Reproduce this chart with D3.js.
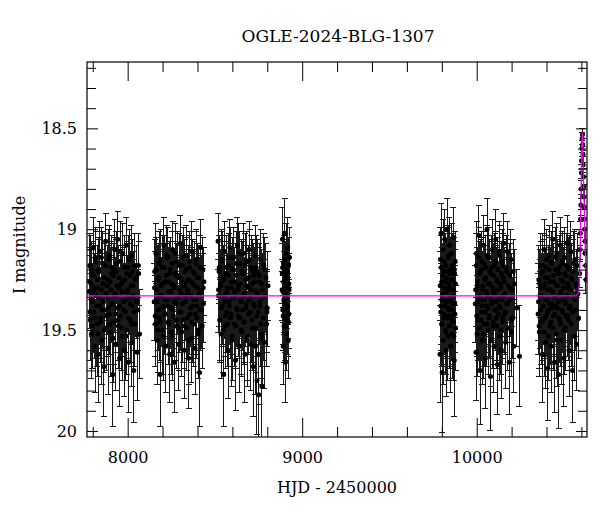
<!DOCTYPE html>
<html>
<head>
<meta charset="utf-8">
<script src="https://cdn.jsdelivr.net/npm/d3@7"></script>
<style>
  body { margin: 0; background: #fff; }
  text { font-family: "DejaVu Serif", serif; fill: #000; }
</style>
</head>
<body>
<div id="chart"></div>
<script>
// season 1
const s1Hjd = [7780,7783,7786,7790,7792,7795,7799,7802,7806,7809,7813,7816,7820,7823,7827,7831,7834,7838,7841,7845,
  7848,7852,7856,7859,7863,7866,7870,7874,7877,7881,7885,7888,7892,7895,7899,7903,7906,7910,7914,7917,
  7921,7925,7928,7932,7936,7939,7943,7947,7950,7954,7958,7961,7965,7969,7972,7976,7980,7983,7987,7991,
  7994,7998,8002,8005,8009,8013,8016,8020,8024,8027,8031,8035,8038,8042,8046,8050,8054,8058,8063,8068];
const s1Mag = [19.31,19.18,19.45,19.27,19.52,19.22,19.36,19.09,19.41,19.29,19.58,19.14,19.33,19.47,19.25,19.62,19.20,19.38,19.11,19.44,
  19.30,19.55,19.17,19.35,19.68,19.24,19.40,19.06,19.49,19.28,19.34,19.59,19.15,19.42,19.26,19.51,19.19,19.37,19.72,19.23,
  19.46,19.10,19.32,19.57,19.21,19.39,19.05,19.48,19.29,19.64,19.16,19.43,19.27,19.53,19.12,19.36,19.60,19.25,19.41,19.08,
  19.50,19.31,19.19,19.66,19.34,19.23,19.45,19.13,19.56,19.38,19.28,19.70,19.18,19.47,19.35,19.24,19.61,19.40,19.22,19.52];
const s1Err = [0.18,0.16,0.20,0.17,0.22,0.16,0.19,0.15,0.20,0.17,0.23,0.15,0.18,0.21,0.17,0.24,0.16,0.19,0.15,0.20,
  0.18,0.22,0.16,0.19,0.25,0.17,0.20,0.14,0.21,0.17,0.18,0.23,0.15,0.20,0.17,0.22,0.16,0.19,0.26,0.16,
  0.21,0.15,0.18,0.23,0.16,0.19,0.14,0.21,0.17,0.24,0.15,0.20,0.17,0.22,0.15,0.19,0.23,0.17,0.20,0.14,
  0.22,0.18,0.16,0.25,0.18,0.16,0.21,0.15,0.22,0.19,0.17,0.26,0.16,0.21,0.18,0.16,0.24,0.20,0.16,0.22];
const s1bHjd = [7781,7785,7789,7794,7798,7803,7807,7812,7817,7821,7826,7830,7835,7840,7844,7849,7854,7858,7862,7867,
  7872,7876,7881,7886,7890,7894,7899,7904,7908,7913,7918,7922,7926,7931,7936,7940,7945,7950,7954,7958,
  7963,7968,7972,7977,7982,7986,7990,7995,8000,8004,8009,8014,8018,8022,8027,8032,8036,8041,8050,8061];
const s1bMag = [19.26,19.41,19.19,19.35,19.48,19.23,19.31,19.44,19.16,19.38,19.29,19.52,19.21,19.34,19.46,19.14,19.40,19.27,19.36,19.50,
  19.18,19.32,19.43,19.25,19.39,19.13,19.47,19.30,19.22,19.37,19.54,19.20,19.33,19.42,19.17,19.28,19.45,19.24,19.38,19.11,
  19.49,19.31,19.26,19.40,19.19,19.35,19.53,19.22,19.30,19.44,19.15,19.37,19.28,19.47,19.21,19.33,19.41,19.25,19.36,19.18];
const s1bErr = [0.17,0.19,0.16,0.18,0.21,0.16,0.17,0.20,0.15,0.19,0.17,0.21,0.16,0.18,0.20,0.15,0.19,0.17,0.18,0.21,
  0.16,0.18,0.20,0.17,0.19,0.15,0.20,0.17,0.16,0.19,0.22,0.16,0.18,0.19,0.16,0.17,0.20,0.16,0.19,0.15,
  0.21,0.18,0.17,0.19,0.16,0.18,0.22,0.16,0.17,0.20,0.15,0.19,0.17,0.21,0.16,0.18,0.19,0.17,0.18,0.16];

// season 2
const s2Hjd = [8152,8155,8159,8162,8166,8169,8173,8176,8180,8183,8187,8190,8194,8197,8201,8205,8208,8212,8215,8219,
  8222,8226,8230,8233,8237,8240,8244,8248,8251,8255,8258,8262,8266,8269,8273,8277,8280,8284,8287,8291,
  8295,8298,8302,8306,8309,8313,8316,8320,8324,8327,8331,8335,8338,8342,8346,8349,8353,8357,8360,8364,
  8368,8371,8375,8379,8382,8386,8390,8393,8397,8401,8404,8408,8412,8415,8419,8423,8427,8431,8434,8437];
const s2Mag = [19.36,19.21,19.47,19.12,19.30,19.55,19.25,19.40,19.17,19.44,19.72,19.28,19.33,19.50,19.19,19.38,19.08,19.42,19.26,19.58,
  19.23,19.35,19.14,19.46,19.31,19.62,19.20,19.39,19.27,19.53,19.10,19.43,19.29,19.66,19.22,19.37,19.48,19.16,19.34,19.57,
  19.24,19.41,19.07,19.32,19.51,19.18,19.45,19.28,19.60,19.21,19.36,19.13,19.49,19.30,19.25,19.64,19.19,19.42,19.33,19.54,
  19.11,19.38,19.27,19.47,19.22,19.59,19.35,19.15,19.44,19.29,19.52,19.24,19.71,19.40,19.09,19.31,19.48,19.20,19.37,19.26];
const s2Err = [0.19,0.16,0.21,0.15,0.18,0.22,0.17,0.20,0.16,0.21,0.26,0.17,0.18,0.22,0.16,0.19,0.14,0.20,0.17,0.23,
  0.16,0.19,0.15,0.21,0.18,0.24,0.16,0.20,0.17,0.22,0.14,0.20,0.17,0.25,0.16,0.19,0.21,0.15,0.18,0.23,
  0.16,0.20,0.14,0.18,0.22,0.15,0.21,0.17,0.24,0.16,0.19,0.15,0.21,0.18,0.17,0.25,0.16,0.20,0.18,0.22,
  0.15,0.19,0.17,0.21,0.16,0.23,0.19,0.15,0.20,0.17,0.22,0.16,0.27,0.20,0.14,0.18,0.21,0.16,0.19,0.17];
const s2bHjd = [8154,8158,8163,8167,8172,8177,8181,8186,8191,8195,8200,8204,8209,8214,8218,8223,8228,8232,8236,8241,
  8246,8250,8255,8260,8264,8268,8273,8278,8282,8287,8292,8296,8300,8305,8310,8314,8319,8324,8328,8332,
  8337,8342,8346,8351,8356,8360,8364,8369,8374,8378,8383,8388,8392,8396,8401,8406,8410,8415,8424,8433];
const s2bMag = [19.29,19.43,19.20,19.36,19.50,19.24,19.33,19.46,19.15,19.39,19.27,19.53,19.19,19.35,19.42,19.13,19.38,19.26,19.47,19.22,
  19.31,19.51,19.17,19.40,19.28,19.36,19.12,19.45,19.23,19.34,19.49,19.18,19.30,19.41,19.25,19.37,19.14,19.48,19.27,19.33,
  19.20,19.44,19.31,19.55,19.16,19.39,19.26,19.46,19.21,19.35,19.28,19.42,19.17,19.38,19.24,19.50,19.32,19.19,19.40,19.29];
const s2bErr = [0.18,0.20,0.16,0.19,0.21,0.17,0.18,0.20,0.15,0.19,0.17,0.22,0.16,0.18,0.20,0.15,0.19,0.17,0.20,0.16,
  0.18,0.21,0.16,0.19,0.17,0.18,0.15,0.20,0.16,0.18,0.21,0.16,0.17,0.19,0.17,0.19,0.15,0.21,0.17,0.18,
  0.16,0.20,0.18,0.22,0.15,0.19,0.17,0.20,0.16,0.18,0.17,0.20,0.16,0.19,0.17,0.21,0.18,0.16,0.19,0.17];

// season 3
const s3Hjd = [8518,8521,8525,8528,8532,8535,8539,8543,8546,8550,8553,8557,8561,8564,8568,8571,8575,8579,8582,8586,
  8589,8593,8597,8600,8604,8607,8611,8615,8618,8622,8625,8629,8633,8636,8640,8643,8647,8651,8654,8658,
  8661,8665,8669,8672,8676,8679,8683,8687,8690,8694,8697,8701,8705,8708,8712,8715,8719,8723,8726,8730,
  8733,8737,8741,8744,8748,8751,8755,8759,8762,8766,8769,8773,8777,8780,8784,8788,8792,8796,8800,8804];
const s3Mag = [19.06,19.30,19.19,19.45,19.27,19.52,19.15,19.38,19.24,19.72,19.33,19.11,19.48,19.22,19.41,19.29,19.60,19.18,19.36,19.09,
  19.44,19.26,19.55,19.20,19.34,19.14,19.47,19.31,19.65,19.23,19.39,19.08,19.43,19.28,19.58,19.17,19.35,19.50,19.21,19.40,
  19.12,19.46,19.32,19.62,19.25,19.37,19.16,19.53,19.29,19.42,19.10,19.34,19.57,19.19,19.45,19.27,19.68,19.23,19.38,19.13,
  19.49,19.31,19.75,19.21,19.41,19.82,19.26,19.36,19.15,19.52,19.78,19.30,19.44,19.18,19.56,19.33,19.24,19.47,19.39,19.28];
const s3Err = [0.14,0.18,0.16,0.21,0.17,0.22,0.15,0.19,0.16,0.26,0.18,0.15,0.21,0.16,0.20,0.17,0.24,0.16,0.19,0.14,
  0.20,0.17,0.23,0.16,0.18,0.15,0.21,0.18,0.25,0.16,0.19,0.14,0.20,0.17,0.23,0.16,0.18,0.22,0.16,0.20,
  0.15,0.21,0.18,0.24,0.17,0.19,0.15,0.22,0.17,0.20,0.14,0.18,0.23,0.16,0.21,0.17,0.25,0.16,0.19,0.15,
  0.22,0.18,0.27,0.16,0.20,0.28,0.17,0.19,0.15,0.22,0.27,0.18,0.21,0.16,0.23,0.18,0.17,0.21,0.19,0.17];
const s3bHjd = [8520,8524,8529,8533,8538,8542,8547,8551,8556,8560,8565,8570,8574,8578,8583,8588,8592,8596,8601,8606,
  8610,8614,8619,8624,8628,8632,8637,8642,8646,8650,8655,8660,8664,8668,8673,8678,8682,8686,8691,8696,
  8700,8704,8709,8714,8718,8722,8727,8732,8736,8740,8745,8750,8754,8758,8763,8768,8772,8776,8786,8798];
const s3bMag = [19.33,19.21,19.45,19.28,19.39,19.16,19.50,19.25,19.36,19.43,19.19,19.31,19.47,19.23,19.38,19.14,19.42,19.29,19.53,19.20,
  19.34,19.26,19.48,19.17,19.40,19.30,19.12,19.44,19.27,19.36,19.51,19.22,19.33,19.46,19.18,19.39,19.28,19.55,19.24,19.35,
  19.15,19.41,19.30,19.49,19.21,19.37,19.26,19.58,19.19,19.43,19.32,19.62,19.23,19.38,19.47,19.27,19.54,19.34,19.20,19.41];
const s3bErr = [0.18,0.16,0.20,0.17,0.19,0.15,0.21,0.17,0.18,0.20,0.16,0.18,0.21,0.16,0.19,0.15,0.20,0.17,0.22,0.16,
  0.18,0.17,0.21,0.16,0.19,0.17,0.15,0.20,0.17,0.18,0.22,0.16,0.18,0.20,0.16,0.19,0.17,0.23,0.16,0.18,
  0.15,0.20,0.17,0.21,0.16,0.19,0.17,0.24,0.16,0.20,0.18,0.25,0.16,0.19,0.21,0.17,0.23,0.18,0.16,0.20];

// season 4 (short)
const s4Hjd = [8886,8887,8889,8890,8892,8893,8895,8896,8898,8899,8901,8902,8904,8905,8907,8908,8910,8911,8913,8914,
  8916,8917,8919,8920,8922,8923,8925,8927];
const s4Mag = [19.22,19.05,19.40,19.31,19.58,19.17,19.35,19.48,19.26,19.02,19.44,19.29,19.66,19.20,19.37,19.12,19.52,19.33,19.24,19.45,
  19.09,19.38,19.28,19.55,19.18,19.42,19.30,19.14];
const s4Err = [0.15,0.16,0.17,0.15,0.19,0.14,0.16,0.18,0.15,0.17,0.17,0.15,0.20,0.14,0.16,0.15,0.18,0.16,0.15,0.17,
  0.15,0.16,0.15,0.19,0.14,0.17,0.16,0.15];
const s4bHjd = [8885,8888,8891,8894,8897,8900,8903,8906,8909,8912,8915,8918,8921,8924];
const s4bMag = [19.30,19.19,19.43,19.26,19.36,19.15,19.48,19.23,19.34,19.40,19.21,19.32,19.46,19.27];
const s4bErr = [0.15,0.14,0.17,0.15,0.16,0.14,0.17,0.15,0.16,0.16,0.15,0.15,0.17,0.15];

// season 5
const s5Hjd = [9790,9792,9795,9796,9799,9801,9802,9805,9807,9808,9811,9813,9814,9817,9819,9820,9823,9825,9826,9829,
  9831,9832,9835,9837,9838,9841,9843,9844,9847,9849,9850,9853,9855,9856,9859,9861,9862,9865,9867,9868,
  9871,9873,9874,9877,9879];
const s5Mag = [19.62,19.15,19.38,19.02,19.47,19.26,19.71,19.33,19.10,19.55,19.21,19.42,19.29,19.05,19.50,19.36,19.18,19.60,19.24,19.44,
  19.00,19.31,19.53,19.14,19.39,19.27,19.48,19.08,19.35,19.58,19.20,19.43,19.30,19.12,19.52,19.25,19.40,19.04,19.46,19.33,
  19.65,19.22,19.37,19.16,19.49];
const s5Err = [0.24,0.16,0.19,0.15,0.21,0.17,0.30,0.18,0.15,0.22,0.16,0.20,0.17,0.15,0.21,0.18,0.16,0.23,0.17,0.20,
  0.15,0.18,0.22,0.15,0.19,0.17,0.21,0.14,0.18,0.23,0.16,0.20,0.17,0.15,0.22,0.17,0.19,0.15,0.21,0.18,
  0.28,0.16,0.19,0.15,0.21];
const s5bHjd = [9791,9794,9797,9800,9803,9806,9809,9812,9815,9818,9821,9824,9827,9830,9833,9836,9839,9842,9845,9848,
  9851,9854,9857,9860,9863,9866,9869,9872,9875,9878];
const s5bMag = [19.28,19.41,19.19,19.35,19.47,19.23,19.32,19.44,19.16,19.38,19.26,19.51,19.21,19.36,19.43,19.13,19.40,19.29,19.48,19.22,
  19.34,19.25,19.45,19.18,19.37,19.30,19.53,19.20,19.42,19.27];
const s5bErr = [0.17,0.19,0.16,0.18,0.20,0.16,0.18,0.19,0.15,0.19,0.17,0.21,0.16,0.18,0.20,0.15,0.19,0.17,0.20,0.16,
  0.18,0.17,0.20,0.16,0.19,0.17,0.22,0.16,0.19,0.17];

// season 6
const s6Hjd = [9992,9996,9999,10002,10006,10009,10012,10016,10019,10022,10026,10029,10032,10036,10039,10042,10046,10049,10052,10056,
  10059,10062,10066,10069,10072,10076,10079,10082,10086,10089,10092,10096,10099,10102,10106,10109,10112,10116,10119,10122,
  10126,10129,10132,10136,10139,10142,10146,10149,10152,10156,10159,10162,10166,10169,10172,10176,10179,10182,10186,10189,
  10192,10196,10199,10202,10206,10209,10212,10216,10230,10245];
const s6Mag = [19.37,19.61,19.12,19.52,19.28,19.45,19.03,19.35,19.70,19.21,19.41,19.16,19.55,19.30,19.08,19.47,19.25,19.64,19.19,19.38,
  19.00,19.33,19.50,19.14,19.43,19.27,19.73,19.22,19.36,19.10,19.48,19.31,19.58,19.18,19.40,19.05,19.44,19.26,19.67,19.20,
  19.34,19.53,19.13,19.39,19.29,19.60,19.16,19.46,19.24,19.07,19.42,19.32,19.56,19.19,19.37,19.11,19.49,19.28,19.66,19.23,
  19.35,19.15,19.51,19.30,19.44,19.21,19.58,19.27,19.39,19.63];
const s6Err = [0.19,0.24,0.16,0.21,0.17,0.20,0.15,0.18,0.27,0.16,0.20,0.15,0.22,0.18,0.15,0.21,0.17,0.25,0.16,0.19,
  0.15,0.18,0.22,0.15,0.20,0.17,0.27,0.16,0.19,0.15,0.21,0.18,0.23,0.16,0.20,0.15,0.21,0.17,0.25,0.16,
  0.18,0.22,0.15,0.19,0.17,0.24,0.16,0.21,0.17,0.15,0.20,0.18,0.23,0.16,0.19,0.15,0.21,0.17,0.26,0.16,
  0.18,0.15,0.22,0.18,0.20,0.16,0.23,0.17,0.19,0.25];
const s6bHjd = [9994,9998,10001,10004,10008,10011,10015,10018,10021,10025,10028,10031,10035,10038,10041,10045,10048,10051,10055,10058,
  10061,10065,10068,10071,10075,10078,10081,10085,10088,10091,10095,10098,10101,10105,10108,10111,10115,10118,10121,10125,
  10128,10131,10135,10138,10141,10145,10148,10151,10155,10158,10164,10171,10178,10188,10201];
const s6bMag = [19.30,19.18,19.43,19.26,19.36,19.14,19.49,19.22,19.33,19.45,19.20,19.38,19.28,19.52,19.17,19.35,19.41,19.24,19.31,19.47,
  19.13,19.39,19.27,19.44,19.21,19.34,19.55,19.19,19.37,19.29,19.46,19.23,19.32,19.40,19.16,19.36,19.48,19.25,19.30,19.42,
  19.11,19.38,19.27,19.50,19.22,19.35,19.44,19.18,19.33,19.26,19.41,19.21,19.37,19.29,19.45];
const s6bErr = [0.18,0.16,0.20,0.17,0.18,0.15,0.21,0.16,0.18,0.20,0.16,0.19,0.17,0.22,0.16,0.18,0.20,0.16,0.18,0.21,
  0.15,0.19,0.17,0.20,0.16,0.18,0.23,0.16,0.19,0.17,0.21,0.16,0.18,0.19,0.15,0.18,0.21,0.17,0.18,0.20,
  0.15,0.19,0.17,0.22,0.16,0.18,0.20,0.16,0.18,0.17,0.20,0.16,0.19,0.17,0.21];

// season 7, baseline part
const s7Hjd = [10352,10356,10359,10362,10366,10369,10372,10376,10379,10382,10386,10389,10392,10396,10399,10402,10406,10409,10412,10416,
  10419,10422,10426,10429,10432,10436,10439,10442,10446,10449,10452,10456,10459,10462,10466,10469,10472,10476,10479,10482,
  10486,10489,10492,10496,10499,10502,10506,10509,10512,10516,10519,10522,10526,10529,10532,10536,10539,10542,10546,10549,
  10552,10556,10559,10562,10566,10569,10572,10576,10580,10584];
const s7Mag = [19.42,19.25,19.51,19.33,19.18,19.46,19.29,19.62,19.21,19.38,19.10,19.44,19.27,19.56,19.19,19.35,19.69,19.24,19.40,19.13,
  19.48,19.30,19.58,19.16,19.37,19.05,19.43,19.26,19.66,19.20,19.34,19.52,19.12,19.39,19.28,19.72,19.22,19.45,19.08,19.31,
  19.55,19.17,19.41,19.26,19.64,19.14,19.36,19.49,19.23,19.33,19.07,19.43,19.29,19.60,19.19,19.38,19.11,19.47,19.25,19.70,
  19.21,19.34,19.53,19.15,19.40,19.27,19.57,19.18,19.32,19.44];
const s7Err = [0.20,0.17,0.22,0.18,0.16,0.21,0.17,0.24,0.16,0.19,0.15,0.20,0.17,0.23,0.16,0.19,0.26,0.16,0.20,0.15,
  0.21,0.18,0.23,0.15,0.19,0.14,0.20,0.17,0.25,0.16,0.18,0.22,0.15,0.19,0.17,0.27,0.16,0.21,0.14,0.18,
  0.22,0.15,0.20,0.17,0.24,0.15,0.19,0.21,0.16,0.18,0.14,0.20,0.17,0.23,0.16,0.19,0.15,0.21,0.17,0.26,
  0.16,0.18,0.22,0.15,0.20,0.17,0.23,0.16,0.18,0.20];
const s7bHjd = [10354,10358,10361,10365,10368,10371,10375,10378,10381,10385,10388,10391,10395,10398,10401,10405,10408,10411,10415,10418,
  10421,10425,10428,10431,10435,10438,10441,10445,10448,10451,10455,10458,10461,10465,10468,10471,10475,10478,10481,10485,
  10488,10491,10495,10498,10501,10505,10508,10511,10515,10518,10521,10525,10528,10531,10535,10541,10548,10555,10564,10574];
const s7bMag = [19.36,19.48,19.27,19.40,19.22,19.33,19.45,19.18,19.38,19.29,19.51,19.24,19.35,19.43,19.15,19.41,19.30,19.53,19.20,19.37,
  19.26,19.46,19.17,19.39,19.31,19.49,19.23,19.34,19.42,19.14,19.38,19.28,19.55,19.21,19.36,19.44,19.19,19.32,19.47,19.25,
  19.40,19.16,19.35,19.29,19.50,19.22,19.37,19.43,19.18,19.33,19.27,19.45,19.20,19.39,19.30,19.24,19.41,19.17,19.35,19.28];
const s7bErr = [0.19,0.21,0.17,0.19,0.16,0.18,0.20,0.16,0.19,0.17,0.22,0.16,0.18,0.20,0.15,0.19,0.17,0.22,0.16,0.19,
  0.17,0.21,0.16,0.19,0.18,0.21,0.16,0.18,0.20,0.15,0.19,0.17,0.23,0.16,0.18,0.20,0.16,0.18,0.21,0.17,
  0.19,0.15,0.18,0.17,0.22,0.16,0.19,0.20,0.16,0.18,0.17,0.20,0.16,0.19,0.18,0.17,0.20,0.16,0.18,0.17];

// season 7, event points
const evHjd = [10590,10592,10594,10595,10597,10598,10600,10601,10603,10604,10606,10607,10609,10610,10612,10613,10615,10616,10618,10619,
  10621,10622,10624,10626];
const evMag = [19.22,19.10,19.02,18.95,18.88,18.80,18.72,18.66,18.60,18.55,18.53,18.58,18.63,18.68,18.74,18.79,18.84,18.89,18.95,19.00,
  19.06,19.12,19.18,19.25];
const evErr = [0.07,0.06,0.06,0.05,0.05,0.05,0.04,0.04,0.04,0.03,0.03,0.03,0.04,0.04,0.04,0.05,0.05,0.05,0.05,0.06,
  0.06,0.06,0.07,0.07];

// model curve
const modelHjd = [7767,10570,10580,10586,10590,10594,10597,10600,10603,10605,10607,10610,10614,10618,10622,10626,10632];
const modelMag = [19.33,19.33,19.32,19.29,19.22,19.05,18.88,18.70,18.56,18.52,18.55,18.66,18.82,18.97,19.10,19.19,19.27];

const xMajor = [8000, 9000, 10000];
const yMajor = [18.5, 19, 19.5, 20];

const width = 600;
const height = 512;
const margin = {top: 62, right: 13, bottom: 75, left: 87};
const plotW = width - margin.left - margin.right;
const plotH = height - margin.top - margin.bottom;

const svg = d3.select('#chart')
    .append('svg')
    .attr('width', width)
    .attr('height', height);

const x = d3.scaleLinear()
    .domain([7767, 10632])
    .range([margin.left, margin.left + plotW]);

const y = d3.scaleLinear()
    .domain([18.171, 20.03])
    .range([margin.top, margin.top + plotH]);

// all points together
const points = [];
[[s1Hjd, s1Mag, s1Err], [s1bHjd, s1bMag, s1bErr], [s2Hjd, s2Mag, s2Err], [s2bHjd, s2bMag, s2bErr],
 [s3Hjd, s3Mag, s3Err], [s3bHjd, s3bMag, s3bErr], [s4Hjd, s4Mag, s4Err], [s4bHjd, s4bMag, s4bErr],
 [s5Hjd, s5Mag, s5Err], [s5bHjd, s5bMag, s5bErr], [s6Hjd, s6Mag, s6Err], [s6bHjd, s6bMag, s6bErr],
 [s7Hjd, s7Mag, s7Err], [s7bHjd, s7bMag, s7bErr], [evHjd, evMag, evErr]]
    .forEach(([t, m, e]) => {
      t.forEach((d, i) => points.push({t: d, m: m[i], e: e[i]}));
    });

svg.append('defs')
    .append('clipPath')
    .attr('id', 'clip')
    .append('rect')
    .attr('x', margin.left)
    .attr('y', margin.top)
    .attr('width', plotW)
    .attr('height', plotH);

const plot = svg.append('g').attr('clip-path', 'url(#clip)');

// error bars, snapped to pixels so the seasons come out solid
const bars = plot.append('g')
    .attr('stroke', '#1a1a1a')
    .attr('stroke-width', 1)
    .attr('shape-rendering', 'crispEdges');

bars.selectAll('line.bar')
    .data(points)
    .join('line')
    .attr('class', 'bar')
    .attr('x1', d => x(d.t))
    .attr('x2', d => x(d.t))
    .attr('y1', d => y(d.m - d.e))
    .attr('y2', d => y(d.m + d.e));

bars.selectAll('line.capTop')
    .data(points)
    .join('line')
    .attr('class', 'capTop')
    .attr('x1', d => x(d.t) - 3)
    .attr('x2', d => x(d.t) + 3)
    .attr('y1', d => y(d.m - d.e))
    .attr('y2', d => y(d.m - d.e));

bars.selectAll('line.capBot')
    .data(points)
    .join('line')
    .attr('class', 'capBot')
    .attr('x1', d => x(d.t) - 3)
    .attr('x2', d => x(d.t) + 3)
    .attr('y1', d => y(d.m + d.e))
    .attr('y2', d => y(d.m + d.e));

// points
plot.append('g')
    .selectAll('circle')
    .data(points)
    .join('circle')
    .attr('cx', d => x(d.t))
    .attr('cy', d => y(d.m))
    .attr('r', 2.5)
    .attr('fill', '#000');

// model
const line = d3.line()
    .x((d, i) => x(modelHjd[i]))
    .y(d => y(d));

plot.append('path')
    .datum(modelMag)
    .attr('d', line)
    .attr('fill', 'none')
    .attr('stroke', '#ff00ff')
    .attr('stroke-width', 1.2);

// axes, ticks pointing inwards
const xMinorTicks = d3.range(7800, 10632, 200).filter(v => !xMajor.includes(v));
const yMinorTicks = d3.range(18.2, 20.03, 0.1).map(v => +v.toFixed(1)).filter(v => !yMajor.includes(v));

function styleAxis(g) {
  g.select('.domain').remove();
  g.selectAll('.tick line').attr('stroke', '#000');
  g.selectAll('.tick text')
      .style('font-family', '"DejaVu Serif", serif')
      .style('font-size', '16px')
      .attr('fill', '#000');
}

const bottomY = margin.top + plotH;
const rightX = margin.left + plotW;

svg.append('g')
    .attr('transform', `translate(0,${bottomY})`)
    .call(d3.axisBottom(x).tickValues(xMinorTicks).tickSize(-10).tickFormat(''))
    .call(styleAxis);
svg.append('g')
    .attr('transform', `translate(0,${bottomY})`)
    .call(d3.axisBottom(x).tickValues(xMajor).tickSize(-19).tickPadding(15).tickFormat(d3.format('d')))
    .call(styleAxis);
svg.append('g')
    .attr('transform', `translate(0,${margin.top})`)
    .call(d3.axisTop(x).tickValues(xMinorTicks).tickSize(-10).tickFormat(''))
    .call(styleAxis);
svg.append('g')
    .attr('transform', `translate(0,${margin.top})`)
    .call(d3.axisTop(x).tickValues(xMajor).tickSize(-19).tickFormat(''))
    .call(styleAxis);

svg.append('g')
    .attr('transform', `translate(${margin.left},0)`)
    .call(d3.axisLeft(y).tickValues(yMinorTicks).tickSize(-9).tickFormat(''))
    .call(styleAxis);
svg.append('g')
    .attr('transform', `translate(${margin.left},0)`)
    .call(d3.axisLeft(y).tickValues(yMajor).tickSize(-11).tickPadding(10).tickFormat(d => d))
    .call(styleAxis);
svg.append('g')
    .attr('transform', `translate(${rightX},0)`)
    .call(d3.axisRight(y).tickValues(yMinorTicks).tickSize(-9).tickFormat(''))
    .call(styleAxis);
svg.append('g')
    .attr('transform', `translate(${rightX},0)`)
    .call(d3.axisRight(y).tickValues(yMajor).tickSize(-11).tickFormat(''))
    .call(styleAxis);

// frame
svg.append('rect')
    .attr('x', margin.left)
    .attr('y', margin.top)
    .attr('width', plotW)
    .attr('height', plotH)
    .attr('fill', 'none')
    .attr('stroke', '#000')
    .attr('stroke-width', 1.2);

// titles
svg.append('text')
    .attr('x', 338)
    .attr('y', 42)
    .attr('text-anchor', 'middle')
    .style('font-size', '17px')
    .text('OGLE-2024-BLG-1307');

svg.append('text')
    .attr('x', 337)
    .attr('y', 493)
    .attr('text-anchor', 'middle')
    .style('font-size', '16px')
    .text('HJD - 2450000');

svg.append('text')
    .attr('transform', 'translate(25,245) rotate(-90)')
    .attr('text-anchor', 'middle')
    .style('font-size', '16px')
    .text('I magnitude');
</script>
</body>
</html>
